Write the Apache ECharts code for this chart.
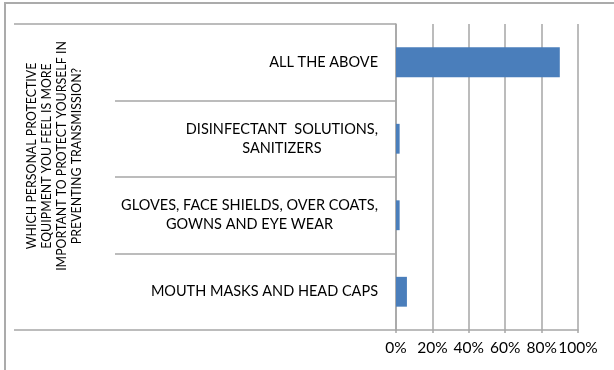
<!DOCTYPE html>
<html>
<head>
<meta charset="utf-8">
<script src="https://cdn.jsdelivr.net/npm/echarts@6/dist/echarts.min.js"></script>
<style>
  html, body { margin: 0; padding: 0; background: #fff; overflow: hidden; }
  #frame { position: absolute; left: 4px; top: 2px; width: 700px; height: 500px;
           border-left: 2px solid #ababab; border-top: 2px solid #ababab; pointer-events: none; }
  #chart { position: absolute; left: 0; top: 0; width: 614px; height: 370px; }
</style>
</head>
<body>
<div id="chart"></div>
<div id="frame"></div>
<script>
// Answer options, listed top to bottom
const categories = [
  'ALL THE ABOVE',
  'DISINFECTANT  SOLUTIONS,\nSANITIZERS',
  'GLOVES, FACE SHIELDS, OVER COATS,\nGOWNS AND EYE WEAR',
  'MOUTH MASKS AND HEAD CAPS'
];
// Share of respondents (%)
const shares = [90, 2, 2, 6];
// Percent axis ticks
const tickMin = 0;
const tickMax = 100;
const tickStep = 20;
const questionLines = [
  'WHICH PERSONAL PROTECTIVE',
  'EQUIPMENT YOU FEEL IS MORE',
  'IMPORTANT TO PROTECT YOURSELF IN',
  'PREVENTING TRANSMISSION?'
];

const FONT = 'Lato, "Open Sans", sans-serif';
const GRID_GRAY = '#a6a6a6';
const TEXT = '#000';

// each line of a label is centred within its block
const centredLines = (v) => v.split('\n').map((s) => '{c|' + s + '}').join('\n');

const chart = echarts.init(document.getElementById('chart'), null, { renderer: 'canvas' });
chart.setOption({
  animation: false,
  backgroundColor: '#fff',
  grid: { left: 396, right: 36, top: 24, bottom: 40, containLabel: false },
  xAxis: {
    type: 'value',
    min: tickMin, max: tickMax, interval: tickStep,
    axisLine: { show: true, lineStyle: { color: GRID_GRAY, width: 1.5 } },
    axisTick: { show: true, length: 3, lineStyle: { color: GRID_GRAY, width: 1.5 } },
    splitLine: { show: true, lineStyle: { color: GRID_GRAY, width: 1.5 } },
    axisLabel: { formatter: '{value}%', color: TEXT, fontFamily: FONT, fontSize: 15.5, margin: 10 }
  },
  yAxis: [
    {
      type: 'category',
      data: categories,
      inverse: true,
      axisLine: { show: true, lineStyle: { color: GRID_GRAY, width: 1.5 } },
      axisTick: { show: true, length: 281, alignWithLabel: false, lineStyle: { color: GRID_GRAY, width: 1.5 } },
      axisLabel: {
        formatter: centredLines,
        margin: 18, align: 'right',
        rich: { c: { align: 'center', color: TEXT, fontFamily: FONT, fontSize: 14.5, lineHeight: 19 } }
      }
    },
    {
      // outer level of the category axis: the survey question
      type: 'category',
      data: [''],
      position: 'left',
      axisLine: { show: false },
      axisTick: { show: true, length: 382, alignWithLabel: false, lineStyle: { color: GRID_GRAY, width: 1.5 } },
      axisLabel: { show: false },
      name: centredLines(questionLines.join('\n')),
      nameLocation: 'middle',
      nameRotate: 90,
      nameGap: 342,
      nameTextStyle: {
        align: 'center', verticalAlign: 'middle', padding: [0, 0, 0, 42],
        rich: { c: { align: 'center', color: TEXT, fontFamily: FONT, fontSize: 12.4, lineHeight: 15 } }
      }
    }
  ],
  series: [{
    type: 'bar',
    yAxisIndex: 0,
    data: shares,
    barCategoryGap: '61%',
    itemStyle: { color: '#4a7ebb' }
  }]
});
</script>
</body>
</html>
